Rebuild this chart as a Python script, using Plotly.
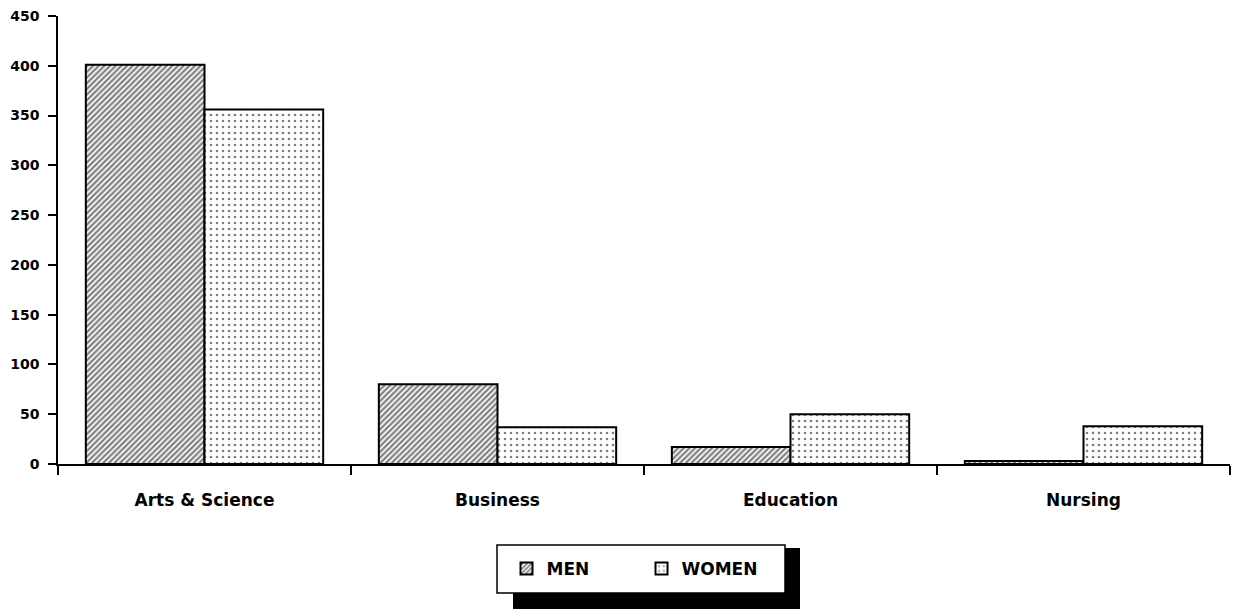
import plotly.graph_objects as go

# Enrolment by school, split by sex
categories = ["Arts & Science", "Business", "Education", "Nursing"]
men = [401, 80, 17, 3]
women = [356, 37, 50, 38]
y_ticks = [0, 50, 100, 150, 200, 250, 300, 350, 400, 450]

FONT = "DejaVu Sans"

# plot-area geometry in pixels (used to place the legend box and its shadow)
L, R, T, B = 58, 3, 16, 147
W, H = 1233, 611
PW, PH = W - L - R, H - T - B


def px_x(px):
    return (px - L) / PW


def px_y(py):
    return (H - B - py) / PH


fig = go.Figure()
fig.add_trace(go.Bar(
    name="MEN", x=categories, y=men,
    marker=dict(color="white", line=dict(color="black", width=2),
                pattern=dict(shape="/", size=4, solidity=0.55,
                             fgcolor="black", bgcolor="white")),
))
fig.add_trace(go.Bar(
    name="WOMEN", x=categories, y=women,
    marker=dict(color="white", line=dict(color="black", width=2),
                pattern=dict(shape=".", size=6, solidity=0.15,
                             fgcolor="black", bgcolor="white")),
))

# legend frame with a drop shadow
fig.add_shape(type="rect", xref="paper", yref="paper",
              x0=px_x(513), x1=px_x(800), y0=px_y(609), y1=px_y(548),
              fillcolor="black", line=dict(width=0), layer="above")
fig.add_shape(type="rect", xref="paper", yref="paper",
              x0=px_x(497), x1=px_x(785), y0=px_y(593), y1=px_y(545),
              fillcolor="white", line=dict(color="black", width=1.5), layer="above")

fig.update_layout(
    width=W, height=H,
    margin=dict(l=L, r=R, t=T, b=B, pad=0),
    paper_bgcolor="white", plot_bgcolor="white",
    barmode="group", bargap=0.19, bargroupgap=0,
    font=dict(family=FONT, color="black"),
    showlegend=True,
    legend=dict(orientation="h", x=px_x(506.5), xanchor="left",
                y=px_y(569), yanchor="middle",
                bgcolor="rgba(0,0,0,0)", borderwidth=0,
                entrywidth=90, entrywidthmode="pixels",
                font=dict(family=FONT, size=17, weight="bold")),
    xaxis=dict(
        type="category", showgrid=False, zeroline=False,
        showline=True, linecolor="black", linewidth=1.5,
        ticks="outside", tickson="boundaries", ticklen=9, tickwidth=1.5,
        tickcolor="black", ticklabelstandoff=20,
        tickfont=dict(family=FONT, size=17, weight="bold"),
    ),
    xaxis2=dict(
        overlaying="x", range=[-0.5, 3.5], showgrid=False, zeroline=False,
        showline=False, showticklabels=False, anchor="y",
        tickmode="array", tickvals=[0.5, 1.5, 2.5, 3.5],
        ticks="inside", ticklen=4, tickwidth=1.5, tickcolor="black",
    ),
    yaxis=dict(
        range=[0, 450], tickmode="array", tickvals=y_ticks,
        showgrid=False, zeroline=False,
        showline=True, linecolor="black", linewidth=1.5,
        ticks="outside", ticklen=8, tickwidth=1.5, tickcolor="black",
        ticklabelstandoff=6,
        tickfont=dict(family=FONT, size=14, weight="bold"),
    ),
    yaxis2=dict(
        overlaying="y", range=[0, 450], tickmode="array", tickvals=y_ticks,
        showgrid=False, zeroline=False, showline=False,
        showticklabels=False, anchor="x", side="left",
        ticks="inside", ticklen=5, tickwidth=1.5, tickcolor="black",
    ),
)

fig.write_html("out.html")
